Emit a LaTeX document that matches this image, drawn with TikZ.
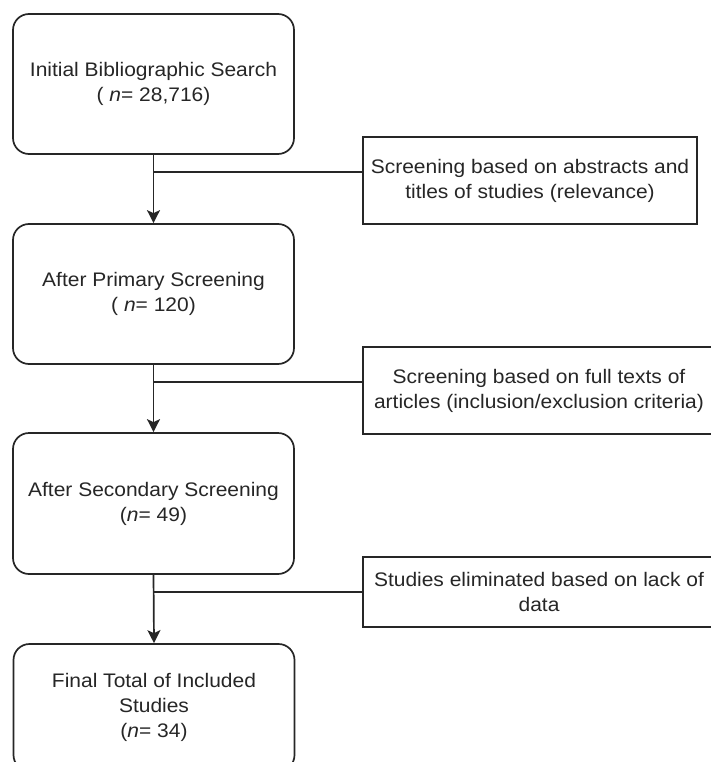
\documentclass[tikz,border=0pt]{standalone}
\usepackage{fontspec}
\setmainfont[FakeStretch=1.07]{Liberation Sans}
\usetikzlibrary{arrows.meta}
\definecolor{ink}{HTML}{262626}
\begin{document}
\begin{tikzpicture}[x=1pt,y=-1pt,
  mainbox/.style={draw=ink, line width=1.7pt, rounded corners=16pt, minimum width=281pt,
    minimum height=140pt, align=center, inner sep=0pt, text=ink, font=\fontsize{19.6}{25}\selectfont},
  sidebox/.style={draw=ink, line width=1.7pt, align=center, inner sep=0pt, text=ink,
    font=\fontsize{19.6}{25}\selectfont},
  flow/.style={draw=ink, line width=1.7pt, -{Stealth[length=13pt,width=13pt,inset=3pt]}},
  branch/.style={draw=ink, line width=1.7pt}]
\useasboundingbox (0,0) rectangle (710,762);
\node[mainbox] (b1) at (153.5,84) {Initial Bibliographic Search\\( \textit{n}= 28,716)};
\node[mainbox] (b2) at (153.5,294) {After Primary Screening\\( \textit{n}= 120)};
\node[mainbox, minimum height=141pt] (b3) at (153.5,503.5) {After Secondary Screening\\(\textit{n}= 49)};
\node[mainbox, minimum height=127pt] (b4) at (154,707.5) {Final Total of Included\\Studies\\(\textit{n}= 34)};
\node[sidebox, minimum width=334pt, minimum height=87pt] (s1) at (530,180.5) {Screening based on abstracts and\\titles of studies (relevance)};
\node[sidebox, minimum width=352pt, minimum height=87pt] (s2) at (539,390.5) {Screening based on full texts of\\articles (inclusion/exclusion criteria)};
\node[sidebox, minimum width=352pt, minimum height=70pt] (s3) at (539,592) {Studies eliminated based on lack of\\data};
\draw[flow] (b1.south) -- (b2.north);
\draw[flow] (b2.south) -- (b3.north);
\draw[flow] (b3.south) -- (b4.north);
\coordinate (j1) at (b1.south |- 0,172);
\coordinate (j2) at (b2.south |- 0,382);
\coordinate (j3) at (b3.south |- 0,592);
\draw[branch] (j1) -- (j1 -| s1.west);
\draw[branch] (j2) -- (j2 -| s2.west);
\draw[branch] (j3) -- (j3 -| s3.west);
\end{tikzpicture}
\end{document}
